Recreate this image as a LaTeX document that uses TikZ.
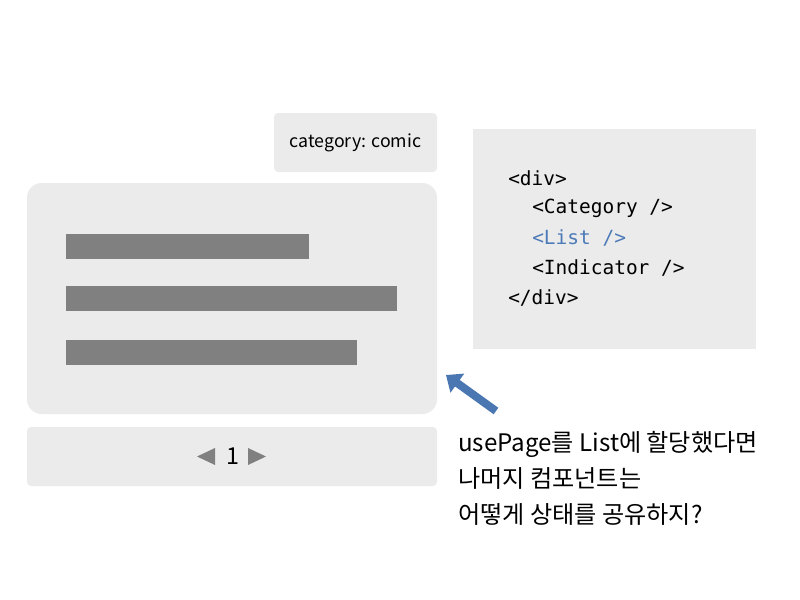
\documentclass[tikz,border=0pt]{standalone}
\usepackage{fontspec}
\setmainfont{Noto Sans CJK KR}
\setmonofont{DejaVu Sans Mono}
\usepackage{xcolor}
\usetikzlibrary{arrows.meta}
\definecolor{panelgray}{HTML}{EBEBEB}
\definecolor{bargray}{HTML}{808080}
\definecolor{codeblue}{HTML}{4C7AB8}
\definecolor{arrowblue}{HTML}{4A77B1}

\begin{document}
\begin{tikzpicture}[
  x=0.75pt, y=-0.75pt,
  panel/.style={fill=panelgray, rounded corners=3pt, inner sep=0pt},
  bar/.style={fill=bargray, anchor=west, inner sep=0pt, minimum height=18.75pt},
  codeline/.style={anchor=west, inner sep=0pt,
                   font=\ttfamily\fontsize{14.6}{16}\selectfont},
  >={Triangle[length=10.5pt, width=17pt]}
]
\useasboundingbox (0,0) rectangle (800,600);
% left side: category, list, indicator
\node[panel, minimum width=122.25pt, minimum height=44.25pt,
      font=\fontsize{13.3}{15}\selectfont] (category) at (355.5,142.5) {category: comic};
\node[panel, rounded corners=11pt, minimum width=307.5pt, minimum height=173.25pt]
  (list) at (232,298.5) {};
\node[bar, minimum width=182.25pt] (bar1) at (66,246.5) {};
\node[bar, minimum width=248.25pt] (bar2) at (66,298.5) {};
\node[bar, minimum width=218.25pt] (bar3) at (66,352.5) {};
\node[panel, minimum width=307.5pt, minimum height=44.25pt] (indicator) at (232,456.5) {};
\node[inner sep=0pt, font=\fontsize{17.5}{18}\selectfont] (page) at (232.5,456.5) {1};
\fill[bargray] (197,456.5) -- (215,448) -- (215,465) -- cycle;
\fill[bargray] (266,456.5) -- (248,448) -- (248,465) -- cycle;
% right side: code
\node[panel, rounded corners=0pt, minimum width=212.25pt, minimum height=165pt]
  (code) at (614.5,239) {};
\node[codeline] (l1) at (508,178) {<div>};
\node[codeline] (l2) at (532,208) {<Category />};
\node[codeline, text=codeblue] (l3) at (532,238) {<List />};
\node[codeline] (l4) at (532,268) {<Indicator />};
\node[codeline] (l5) at (508,298) {</div>};
% question
\coordinate (arrowtail) at (496,411);
\coordinate (arrowhead) at (446,375);
\draw[->, line width=6pt, arrowblue] (arrowtail) -- (arrowhead);
\node[anchor=west, inner sep=0pt, align=left, font=\fontsize{18.1}{27}\selectfont]
  (question) at (458,478)
  {usePage를 List에 할당했다면\\나머지 컴포넌트는\\어떻게 상태를 공유하지?};
\end{tikzpicture}
\end{document}
